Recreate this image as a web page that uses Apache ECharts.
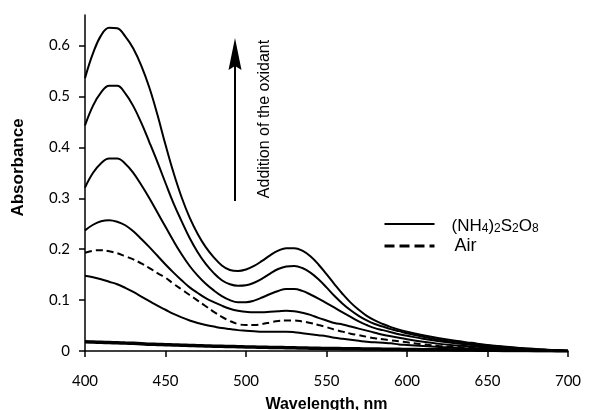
<!DOCTYPE html>
<html>
<head>
<meta charset="utf-8">
<script src="https://cdn.jsdelivr.net/npm/echarts@6/dist/echarts.min.js"></script>
<style>
html,body{margin:0;padding:0;background:#fff;}
#chart{width:596px;height:410px;}
</style>
</head>
<body>
<div id="chart"></div>
<script>
// Wavelength (nm)
const wavelengths = [400,405,410,415,420,425,430,435,440,445,450,455,460,465,470,475,480,485,490,495,500,505,510,515,520,525,530,535,540,545,550,555,560,565,570,575,580,585,590,595,600,610,620,630,640,650,660,670,680,690,700];
// Absorbance spectra
const initial = [0.018,0.0175,0.017,0.0165,0.016,0.0155,0.015,0.0143,0.0135,0.013,0.0125,0.012,0.0115,0.011,0.0105,0.010,0.0095,0.0092,0.0088,0.0084,0.008,0.0077,0.0074,0.0071,0.0068,0.0065,0.0062,0.0059,0.0056,0.0053,0.005,0.0048,0.0046,0.0044,0.0042,0.004,0.0038,0.0036,0.0034,0.0032,0.003,0.0027,0.0024,0.0021,0.0018,0.0015,0.0012,0.0009,0.0006,0.0003,0];
const persulfate1 = [0.148,0.145,0.141,0.136,0.131,0.124,0.116,0.107,0.098,0.089,0.081,0.073,0.066,0.060,0.055,0.051,0.048,0.045,0.043,0.041,0.040,0.039,0.038,0.038,0.038,0.038,0.037,0.035,0.033,0.031,0.029,0.026,0.024,0.022,0.020,0.018,0.017,0.016,0.015,0.013,0.012,0.010,0.008,0.006,0.005,0.004,0.003,0.002,0.0015,0.001,0];
const air = [0.193,0.197,0.198,0.196,0.192,0.186,0.180,0.172,0.163,0.153,0.144,0.132,0.121,0.110,0.099,0.088,0.077,0.067,0.059,0.053,0.051,0.051,0.053,0.056,0.059,0.060,0.060,0.058,0.055,0.051,0.047,0.042,0.038,0.034,0.031,0.028,0.025,0.023,0.021,0.019,0.017,0.013,0.010,0.008,0.006,0.005,0.004,0.003,0.002,0.001,0];
const persulfate2 = [0.237,0.248,0.255,0.257,0.254,0.247,0.235,0.220,0.204,0.187,0.170,0.154,0.139,0.125,0.114,0.104,0.096,0.089,0.083,0.079,0.077,0.076,0.076,0.077,0.078,0.079,0.078,0.075,0.071,0.065,0.060,0.055,0.052,0.048,0.044,0.040,0.036,0.032,0.029,0.026,0.023,0.018,0.014,0.011,0.009,0.007,0.005,0.004,0.002,0.001,0];
const persulfate3 = [0.321,0.350,0.369,0.378,0.378,0.368,0.350,0.326,0.300,0.272,0.244,0.216,0.190,0.167,0.148,0.132,0.119,0.108,0.100,0.096,0.096,0.099,0.105,0.112,0.118,0.122,0.122,0.118,0.111,0.103,0.094,0.085,0.076,0.067,0.058,0.051,0.045,0.041,0.037,0.033,0.030,0.024,0.019,0.015,0.012,0.009,0.007,0.005,0.003,0.0015,0];
const persulfate4 = [0.443,0.482,0.508,0.521,0.521,0.506,0.481,0.448,0.410,0.371,0.330,0.290,0.255,0.222,0.194,0.171,0.153,0.139,0.131,0.128,0.129,0.134,0.142,0.152,0.161,0.166,0.167,0.163,0.154,0.141,0.125,0.108,0.093,0.080,0.069,0.060,0.053,0.048,0.043,0.039,0.035,0.028,0.022,0.018,0.014,0.011,0.008,0.005,0.003,0.0015,0];
const persulfate5 = [0.536,0.585,0.620,0.635,0.634,0.618,0.594,0.560,0.517,0.464,0.405,0.350,0.302,0.262,0.230,0.204,0.184,0.168,0.159,0.157,0.160,0.167,0.177,0.188,0.197,0.202,0.202,0.197,0.186,0.170,0.151,0.131,0.112,0.095,0.081,0.069,0.060,0.053,0.047,0.042,0.038,0.031,0.025,0.020,0.016,0.012,0.009,0.006,0.004,0.002,0];
// Tick labels
const xTicks = [400,450,500,550,600,650,700];
const yTicks = [0,0.1,0.2,0.3,0.4,0.5,0.6];

const SOLID = '(NH4)2S2O8';
const AIR = 'Air';

function pairs(arr){ return wavelengths.map((w,i)=>[w,arr[i]]); }
function solid(arr, width){
  return {type:'line', name:SOLID, data:pairs(arr), smooth:0.4, showSymbol:false, symbol:'none',
    lineStyle:{color:'#000', width:width||2, type:'solid'}, itemStyle:{color:'#000'}, z:3, silent:true};
}

const chart = echarts.init(document.getElementById('chart'), null, {renderer:'canvas'});
chart.setOption({
  animation:false,
  backgroundColor:'#fff',
  grid:{left:85, right:28, top:15, bottom:59, containLabel:false, outerBoundsMode:'none'},
  xAxis:{
    type:'value', min:400, max:700, interval:50,
    name:'Wavelength, nm', nameLocation:'middle', nameGap:46,
    nameTextStyle:{fontFamily:'Liberation Sans', fontWeight:'bold', fontSize:16, color:'#000'},
    axisLine:{show:true, onZero:false, lineStyle:{color:'#000', width:1.5}},
    axisTick:{show:true, inside:false, length:6, lineStyle:{color:'#000', width:1.5}},
    axisLabel:{fontFamily:'Lato', fontSize:15, color:'#000', margin:23, customValues:xTicks},
    splitLine:{show:false}
  },
  yAxis:{
    type:'value', min:0, max:0.66,
    axisLine:{show:true, onZero:false, lineStyle:{color:'#000', width:1.5}},
    axisTick:{show:true, inside:false, length:6, lineStyle:{color:'#000', width:1.5}, customValues:yTicks},
    axisLabel:{fontFamily:'Lato', fontSize:15, color:'#000', margin:15, customValues:yTicks,
      formatter:function(v){ return String(v); }},
    splitLine:{show:false}
  },
  legend:{
    show:true, orient:'vertical', left:383, top:213, itemGap:0, padding:0,
    itemWidth:50, itemHeight:14, selectedMode:false,
    textStyle:{color:'#000', fontFamily:'Liberation Sans', fontSize:17, lineHeight:22, padding:[0,0,0,12],
      rich:{
        n:{fontFamily:'Liberation Sans', fontSize:17, lineHeight:22, color:'#000', verticalAlign:'bottom'},
        s:{fontFamily:'Liberation Sans', fontSize:12, lineHeight:14, color:'#000', verticalAlign:'bottom'}
      }},
    formatter:function(name){
      if(name===SOLID){ return '{n|(NH}{s|4}{n|)}{s|2}{n|S}{s|2}{n|O}{s|8}'; }
      return name;
    },
    data:[
      {name:SOLID, lineStyle:{color:'#000', width:2, type:'solid'},
        itemStyle:{color:'rgba(0,0,0,0)', borderWidth:0, opacity:0}},
      {name:AIR, lineStyle:{color:'#000', width:3, type:[10,5]},
        itemStyle:{color:'rgba(0,0,0,0)', borderWidth:0, opacity:0},
        textStyle:{fontSize:18, padding:[0,0,0,15]}}
    ]
  },
  graphic:[
    {type:'text', x:18.5, y:167.5, rotation:Math.PI/2,
      style:{text:'Absorbance', fontFamily:'Liberation Sans', fontWeight:'bold', fontSize:17, fill:'#000', align:'center', verticalAlign:'middle'}},
    {type:'line', shape:{x1:235, y1:201, x2:235, y2:62}, style:{stroke:'#000', lineWidth:2}},
    {type:'polygon', shape:{points:[[235,38],[228.5,70],[235,66],[241.5,70]]}, style:{fill:'#000'}},
    {type:'text', x:265, y:119, rotation:Math.PI/2,
      style:{text:'Addition of the oxidant', fontFamily:'Liberation Sans', fontSize:16, fill:'#000', align:'center', verticalAlign:'middle'}}
  ],
  series:[
    solid(persulfate5),
    solid(persulfate4),
    solid(persulfate3),
    solid(persulfate2),
    {type:'line', name:AIR, data:pairs(air), smooth:0.4, showSymbol:false, symbol:'none',
      lineStyle:{color:'#000', width:2, type:[7,4]}, itemStyle:{color:'#000'}, z:3, silent:true},
    solid(persulfate1),
    solid(initial, 3.5)
  ]
});
</script>
</body>
</html>
